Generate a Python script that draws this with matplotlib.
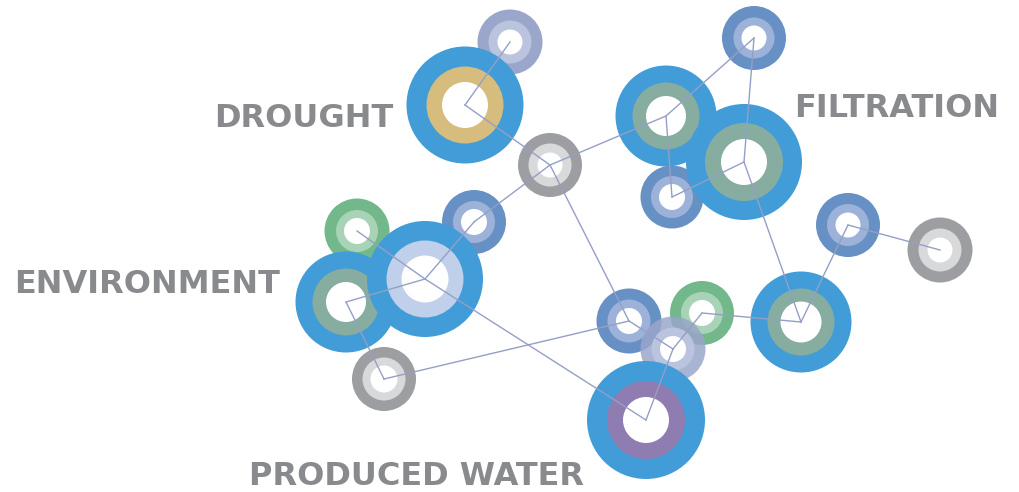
import matplotlib
matplotlib.use('Agg')
import matplotlib.pyplot as plt
from matplotlib.patches import Circle

# node data (pixel coordinates of the original picture, y down)
node_x = [465, 510, 550, 754, 666, 744, 672, 357, 346, 425, 474, 384, 629, 702, 673, 646, 801, 848, 940]
node_y = [105, 42, 165, 38, 116, 162, 197, 231, 302, 279, 222, 379, 321, 313, 349, 420, 322, 225, 250]
outer_r = [58.5, 32.5, 32, 32, 50.5, 58, 31.5, 32.5, 50.5, 58, 32, 32, 32.5, 32, 32.5, 59, 50.5, 32, 32.5]
mid_r = [38.5, 21.5, 21.5, 20.5, 33.5, 39, 21, 21, 33.5, 38.5, 21, 21.5, 21.5, 21, 21.5, 39, 33.5, 21, 21.5]
inner_r = [23, 12.5, 12.5, 12.5, 20, 23, 13, 13, 20, 23.5, 13, 13.5, 13, 13, 13, 23, 20.5, 12.5, 12.5]
node_kind = ['drought', 'mauve', 'gray', 'blue', 'teal', 'teal', 'blue', 'green', 'teal', 'pale',
             'blue', 'gray', 'blue', 'green', 'mauve', 'purple', 'teal', 'blue', 'gray']

edges = [(0, 1), (0, 2), (2, 4), (2, 10), (2, 12), (4, 3), (4, 6), (6, 5), (3, 5), (5, 16),
         (16, 17), (17, 18), (10, 9), (9, 8), (8, 11), (11, 12), (7, 9), (9, 15), (12, 14),
         (14, 13), (13, 16), (14, 15)]

labels = ['DROUGHT', 'FILTRATION', 'ENVIRONMENT', 'PRODUCED WATER']
label_x = [214, 794, 14, 249]
label_y = [127, 117, 293, 485]

# ring colours per kind: (outer, middle)
BIG_BLUE = '#419cd8'
kinds = {
    'drought': (BIG_BLUE, '#d6bd7e'),
    'teal': (BIG_BLUE, '#86ad9f'),
    'pale': (BIG_BLUE, '#c0d0ea'),
    'purple': (BIG_BLUE, '#8f7cb0'),
    'gray': ('#9d9ea1', '#d8d9db'),
    'blue': ('#6790c4', '#9db2d9'),
    'mauve': ('#9aa6ca', '#bbc4de'),
    'green': ('#72b88b', '#a8d3b6'),
}
draw_order = [1, 0, 2, 3, 6, 4, 5, 7, 10, 8, 9, 11, 12, 13, 14, 15, 16, 17, 18]
see_through = {14: 0.85}

fig = plt.figure(figsize=(10.2, 4.92), dpi=100)
ax = fig.add_axes([0, 0, 1, 1])
ax.set_xlim(0, 1020)
ax.set_ylim(492, 0)
ax.axis('off')

for z, i in enumerate(draw_order):
    oc, mc = kinds[node_kind[i]]
    a = see_through.get(i, 1.0)
    ax.add_patch(Circle((node_x[i], node_y[i]), outer_r[i], fc=oc, ec='none', alpha=a, zorder=2 + z * 3))
    ax.add_patch(Circle((node_x[i], node_y[i]), mid_r[i], fc=mc, ec='none', zorder=3 + z * 3))
    ax.add_patch(Circle((node_x[i], node_y[i]), inner_r[i], fc='white', ec='none', zorder=4 + z * 3))

for a, b in edges:
    ax.plot([node_x[a], node_x[b]], [node_y[a], node_y[b]], color='#959fc6', lw=1.0, zorder=100)

for t, x, y in zip(labels, label_x, label_y):
    ax.text(x, y, t, fontsize=23, fontweight='bold', family='DejaVu Sans', color='#898a8d',
            ha='left', va='baseline', zorder=110)

fig.savefig('out.png', dpi=100, facecolor='white')
